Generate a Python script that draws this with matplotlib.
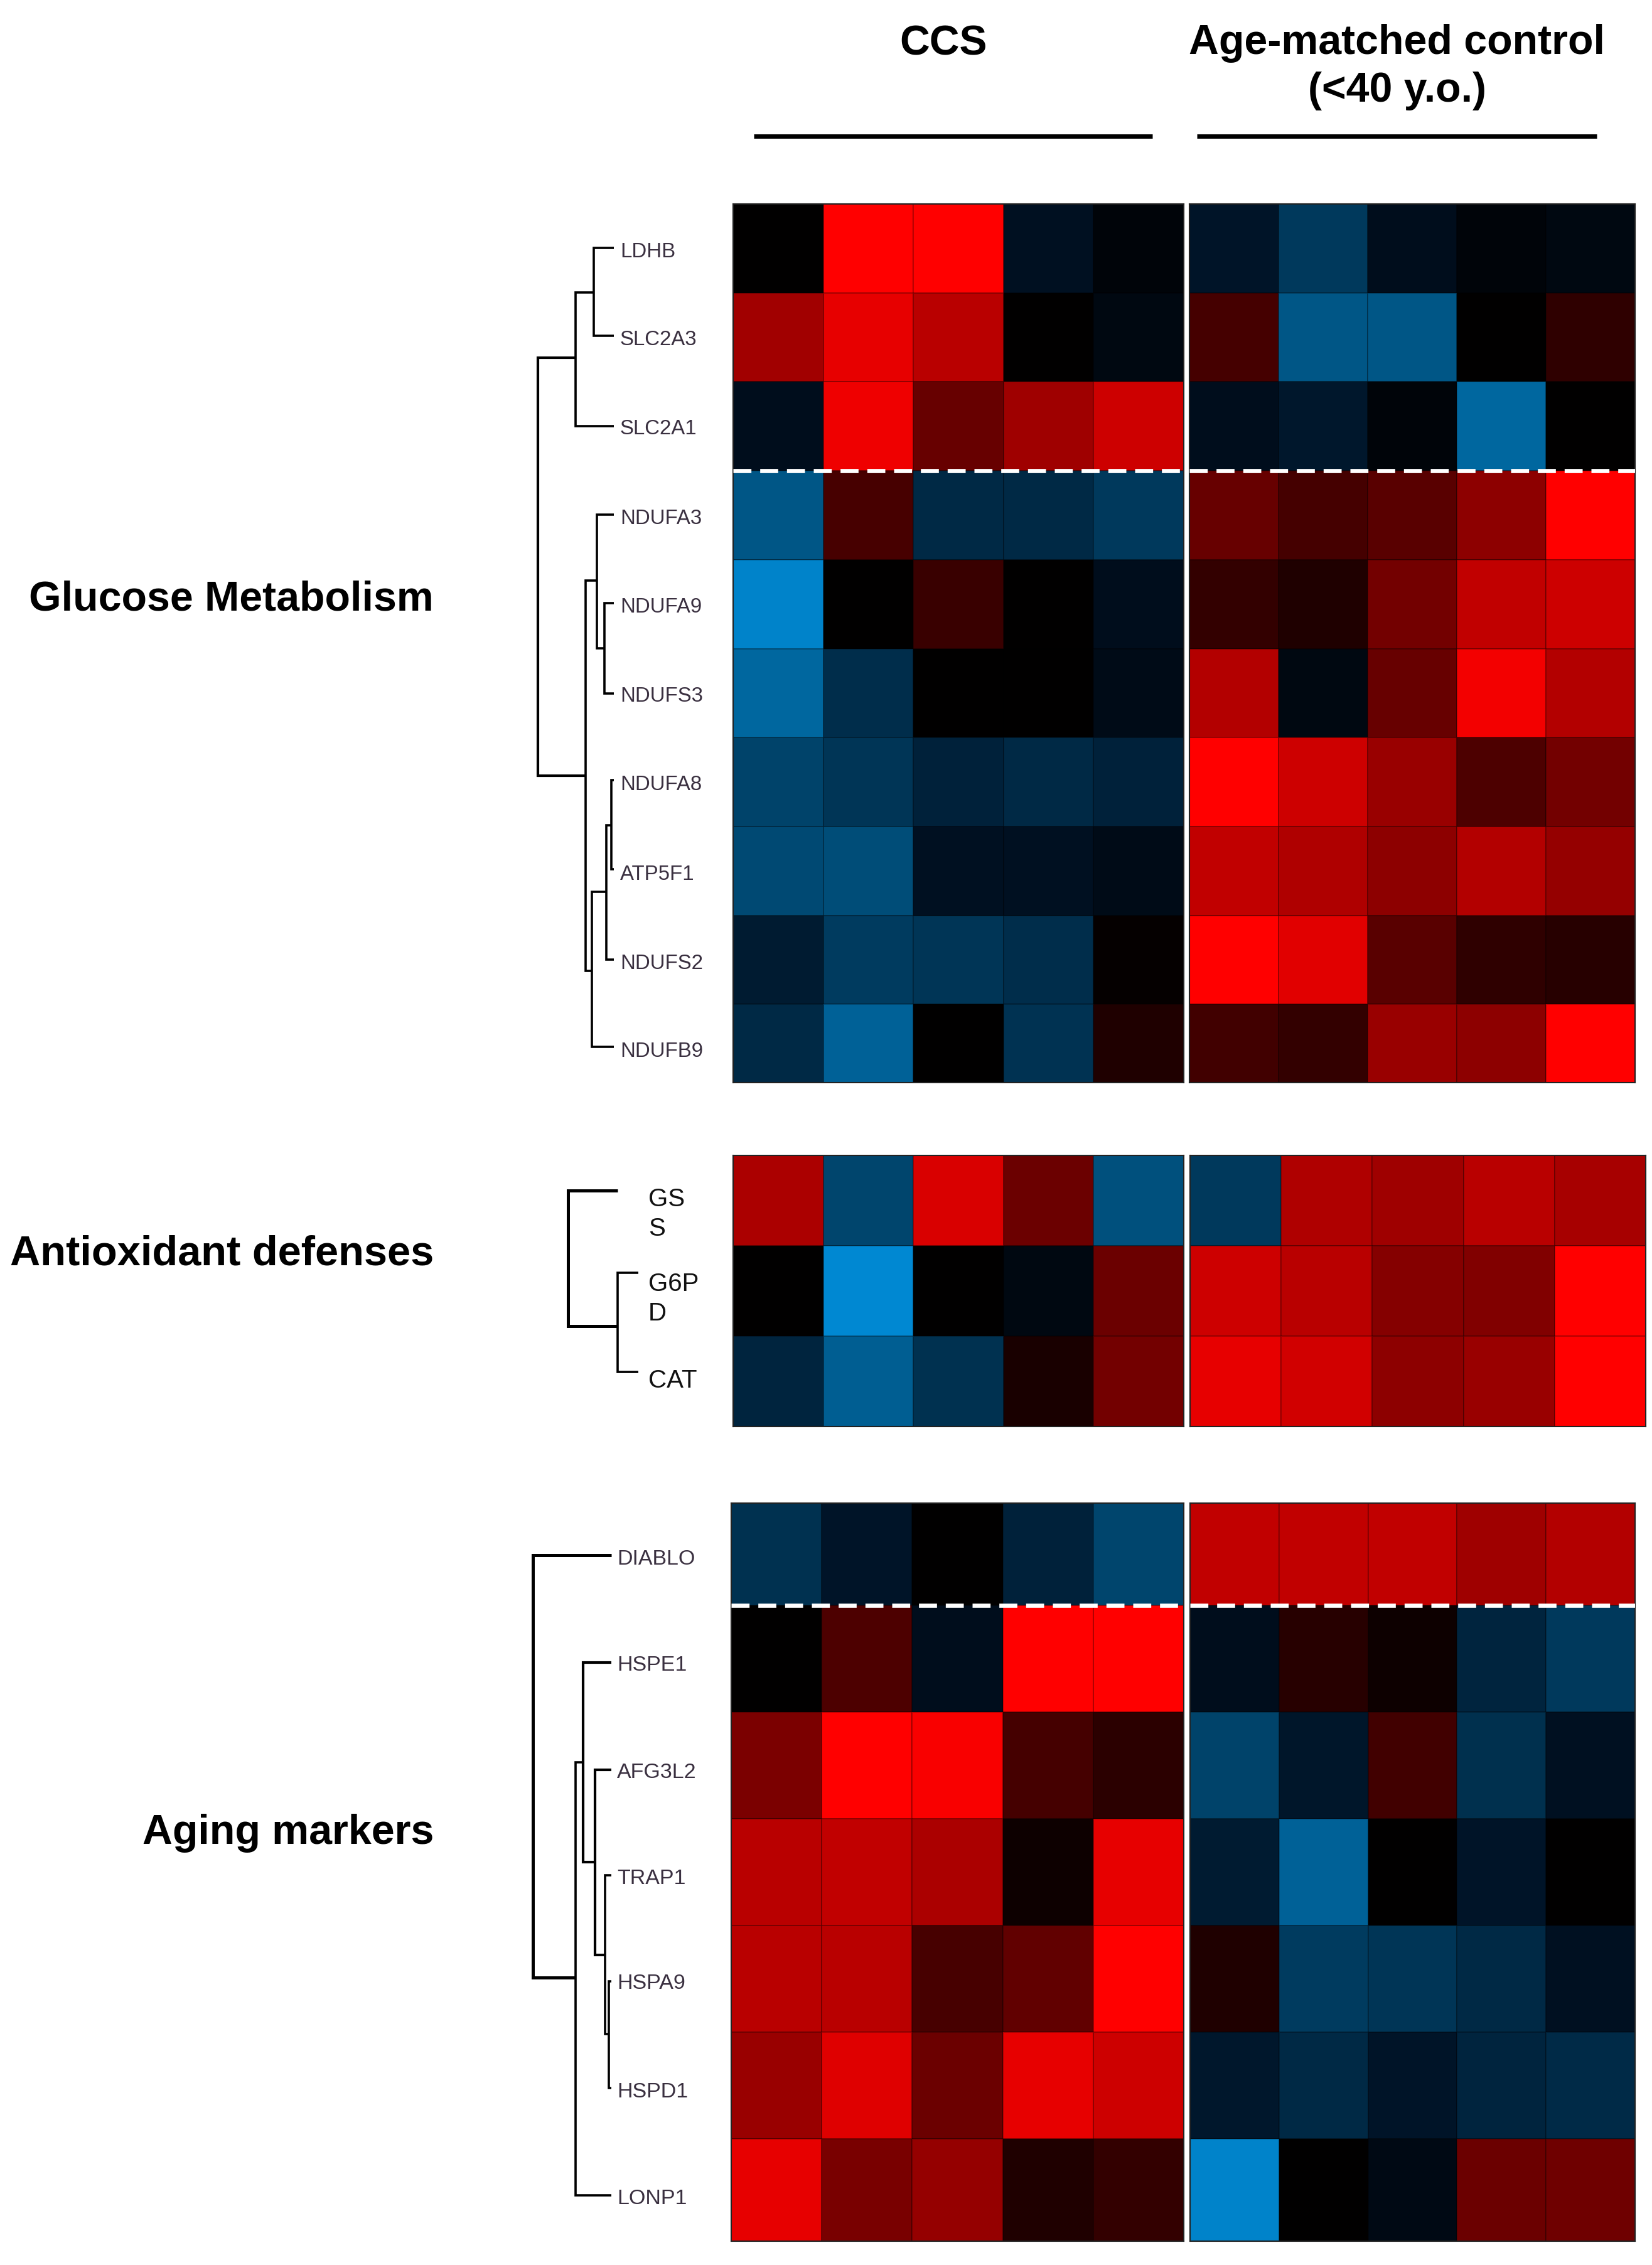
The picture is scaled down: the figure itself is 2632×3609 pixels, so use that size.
#!/usr/bin/env python

import matplotlib
matplotlib.use("Agg")
import matplotlib.pyplot as plt
from matplotlib.colors import LinearSegmentedColormap

W, H = 2632, 3609

# expression values, -1 blue, 0 black, 1 red
glucose_genes = ["LDHB", "SLC2A3", "SLC2A1", "NDUFA3", "NDUFA9", "NDUFS3",
                 "NDUFA8", "ATP5F1", "NDUFS2", "NDUFB9"]
glucose_ccs = [
    [0, 1, 1, -.1, -.03],
    [.63, .9, .72, 0, -.05],
    [-.08, .93, .4, .62, .8],
    [-.55, .28, -.22, -.22, -.33],
    [-.95, 0, .22, 0, -.08],
    [-.7, -.25, 0, 0, -.07],
    [-.4, -.3, -.18, -.22, -.18],
    [-.45, -.47, -.1, -.1, -.07],
    [-.15, -.35, -.3, -.25, .02],
    [-.22, -.65, 0, -.28, .12],
]
glucose_ctrl = [
    [-.12, -.33, -.08, -.03, -.05],
    [.27, -.55, -.55, 0, .18],
    [-.08, -.14, -.03, -.7, 0],
    [.4, .27, .35, .55, 1],
    [.2, .12, .45, .75, .8],
    [.7, -.05, .4, .95, .7],
    [1, .8, .6, .3, .45],
    [.75, .68, .55, .7, .58],
    [1, .88, .35, .18, .15],
    [.25, .2, .6, .55, 1],
]

antiox_genes = ["GS\nS", "G6P\nD", "CAT"]
antiox_ccs = [
    [.67, -.42, .85, .42, -.5],
    [0, -1, 0, -.05, .42],
    [-.2, -.62, -.27, .1, .45],
]
antiox_ctrl = [
    [-.33, .68, .62, .72, .65],
    [.8, .72, .52, .5, 1],
    [.9, .82, .55, .6, 1],
]

aging_genes = ["DIABLO", "HSPE1", "AFG3L2", "TRAP1", "HSPA9", "HSPD1", "LONP1"]
aging_ccs = [
    [-.27, -.12, 0, -.18, -.42],
    [0, .3, -.08, 1, 1],
    [.48, 1, .97, .27, .17],
    [.72, .75, .67, .05, .9],
    [.72, .72, .28, .38, 1],
    [.6, .87, .42, .9, .8],
    [.9, .47, .58, .12, .2],
]
aging_ctrl = [
    [.75, .75, .75, .62, .7],
    [-.08, .15, .05, -.2, -.33],
    [-.4, -.13, .25, -.26, -.1],
    [-.15, -.65, 0, -.12, 0],
    [.12, -.35, -.3, -.22, -.1],
    [-.14, -.22, -.12, -.2, -.23],
    [-.95, 0, -.06, .42, .43],
]

# the blues of the picture are brighter than a straight ramp to black
cmap = LinearSegmentedColormap.from_list("bkr", [
    (0.0, "#0088d2"),
    (0.25, "#00507d"),
    (0.375, "#002e4c"),
    (0.45, "#001022"),
    (0.5, "#000000"),
    (1.0, "#ff0000"),
])

plt.rcParams['font.family'] = ['Liberation Sans', 'DejaVu Sans']
fig = plt.figure(figsize=(W / 100, H / 100), dpi=100, facecolor="white")


def heat_panel(values, left, right, top, bottom, ylim, dash_row=None):
    ax = fig.add_axes([left / W, 1 - bottom / H, (right - left) / W, (bottom - top) / H])
    ax.pcolormesh(values, cmap=cmap, vmin=-1, vmax=1,
                  edgecolors=(0, 0, 0, 0.25), linewidth=1.2)
    ax.set_ylim(ylim[1], ylim[0])
    ax.set_xticks([])
    ax.set_yticks([])
    for s in ax.spines.values():
        s.set_color("#222222")
        s.set_linewidth(1.5)
    if dash_row is not None:
        ax.axhline(dash_row, color="white", lw=4.8, linestyle=(0, (4.3, 2.1)), zorder=5)
    return ax


# (values, left, right, top, bottom, visible rows)
heat_panel(glucose_ccs, 1168, 1886, 325, 1725, (0, 9.88), 3)
heat_panel(glucose_ctrl, 1895, 2605, 325, 1725, (0, 9.88), 3)
heat_panel(antiox_ccs, 1168, 1886, 1841, 2273, (0, 3))
heat_panel(antiox_ctrl, 1896, 2622, 1841, 2273, (0, 3))
heat_panel(aging_ccs, 1165, 1886, 2395, 3571, (0.04, 6.96), 1)
heat_panel(aging_ctrl, 1896, 2605, 2395, 3571, (0.04, 6.96), 1)

# overlay in image pixels for the dendrograms and all the text
ov = fig.add_axes([0, 0, 1, 1], facecolor="none")
ov.set_xlim(0, W)
ov.set_ylim(H, 0)
ov.axis("off")


def bracket(x, y0, x0, y1, x1, lw=2.6):
    # vertical stem at x with a branch to x0 at y0 and a branch to x1 at y1
    ov.plot([x0, x, x, x1], [y0, y0, y1, y1], color="black", lw=lw,
            solid_joinstyle="miter", solid_capstyle="butt")


# glucose tree
bracket(946, 395, 978, 535, 978)
bracket(917, 466, 946, 679, 978)
bracket(857, 570, 917, 1236, 933, lw=3)
bracket(933, 925, 951, 1547, 943)
bracket(951, 820, 978, 1033, 963)
bracket(963, 961, 978, 1105, 978)
bracket(943, 1421, 966, 1668, 978)
bracket(966, 1315, 974, 1529, 978)
bracket(974, 1243, 978, 1385, 978)

# antioxidant tree
bracket(905, 1897, 984, 2113, 984, lw=3.6)
bracket(984, 2028, 1017, 2186, 1017)

# aging tree
bracket(849, 2478, 974, 3151, 917, lw=3.6)
bracket(917, 2808, 929, 3498, 974)
bracket(929, 2649, 974, 2967, 948, lw=3)
bracket(948, 2820, 974, 3115, 964, lw=3)
bracket(964, 2988, 974, 3241, 970)
bracket(970, 3157, 974, 3327, 974)

glucose_y = [401, 542, 684, 826, 967, 1109, 1250, 1393, 1535, 1675]
aging_y = [2484, 2653, 2824, 2993, 3160, 3333, 3503]
antiox_y = [1934, 2069, 2200]

for name, y in zip(glucose_genes, glucose_y):
    ov.text(988, y, name, fontsize=23.8, color="#3a3040", ha="left", va="center")
for name, y in zip(aging_genes, aging_y):
    ov.text(983, y, name, fontsize=24.5, color="#3a3040", ha="left", va="center")
for name, y in zip(antiox_genes, antiox_y):
    ov.text(1033, y, name, fontsize=29, color="#111111", ha="left", va="center", linespacing=1.3)

ov.text(691, 955, "Glucose Metabolism", fontsize=47.7, fontweight="bold", ha="right", va="center")
ov.text(691, 1998, "Antioxidant defenses", fontsize=48.1, fontweight="bold", ha="right", va="center")
ov.text(691, 2921, "Aging markers", fontsize=47.7, fontweight="bold", ha="right", va="center")

ov.text(1503, 71, "CCS", fontsize=47.5, fontweight="bold", ha="center", va="center")
ov.text(2226, 69, "Age-matched control", fontsize=47.7, fontweight="bold", ha="center", va="center")
ov.text(2226, 145, "(<40 y.o.)", fontsize=47.7, fontweight="bold", ha="center", va="center")

ov.plot([1201, 1836], [217, 217], color="black", lw=5, solid_capstyle="butt")
ov.plot([1907, 2544], [217, 217], color="black", lw=5, solid_capstyle="butt")

fig.savefig("out.png", dpi=100)
